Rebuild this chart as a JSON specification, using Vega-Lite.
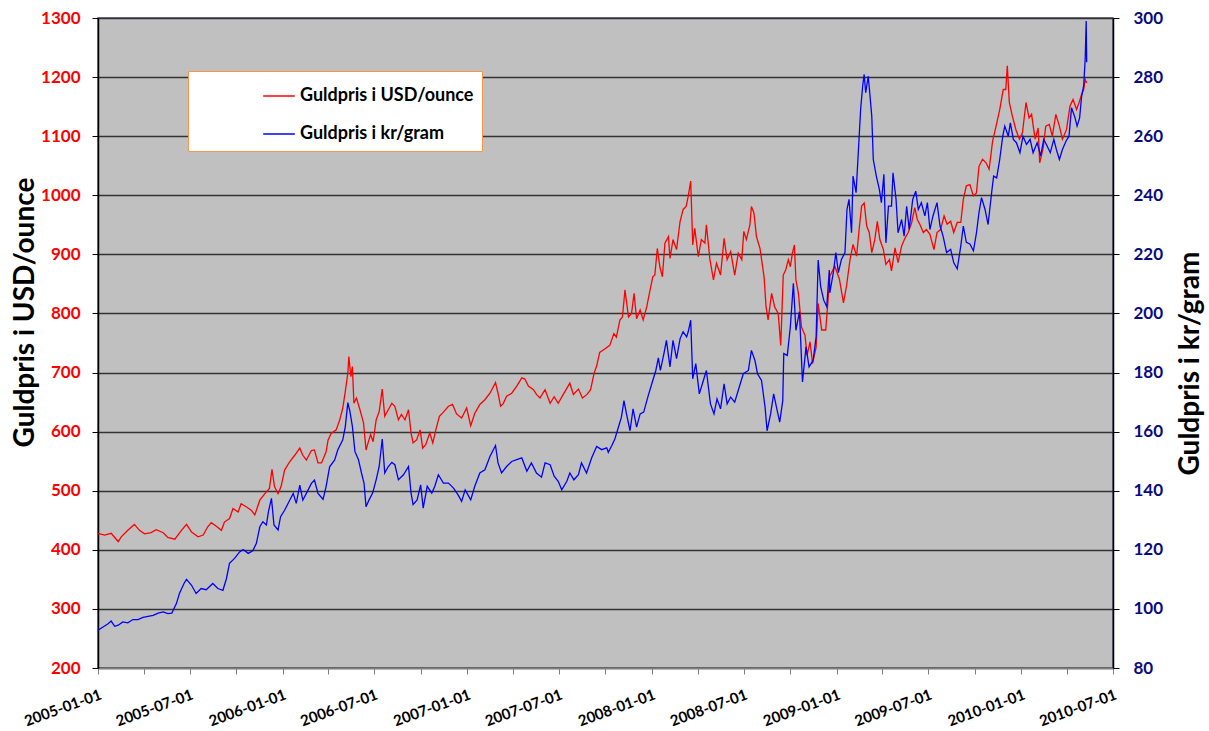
{
"$schema": "https://vega.github.io/schema/vega-lite/v6.json",
"autosize": {"type": "none"},
"width": 1015,
"height": 650,
"padding": {"left": 98, "top": 18, "right": 96, "bottom": 63},
"background": "white",
"config": {
  "font": "Lato",
  "view": {"fill": "#c0c0c0", "stroke": "#4d4d70", "strokeWidth": 1.5}
},
"datasets": {
"usd": [
{"d":"2005-01-01","v":428},{"d":"2005-01-14","v":425},{"d":"2005-01-27","v":428},{"d":"2005-02-10","v":414},{"d":"2005-02-16","v":422},{"d":"2005-03-01","v":433},{"d":"2005-03-14","v":443},{"d":"2005-03-24","v":433},{"d":"2005-04-03","v":427},{"d":"2005-04-16","v":429},{"d":"2005-04-26","v":434},{"d":"2005-05-10","v":429},{"d":"2005-05-19","v":421},{"d":"2005-06-02","v":418},{"d":"2005-06-15","v":433},{"d":"2005-06-25","v":443},{"d":"2005-07-05","v":430},{"d":"2005-07-18","v":422},{"d":"2005-07-28","v":425},{"d":"2005-08-06","v":439},{"d":"2005-08-13","v":446},{"d":"2005-08-23","v":440},{"d":"2005-09-02","v":433},{"d":"2005-09-08","v":447},{"d":"2005-09-18","v":453},{"d":"2005-09-25","v":470},{"d":"2005-10-05","v":464},{"d":"2005-10-11","v":478},{"d":"2005-10-21","v":473},{"d":"2005-10-31","v":467},{"d":"2005-11-07","v":459},{"d":"2005-11-17","v":484},{"d":"2005-11-27","v":495},{"d":"2005-12-06","v":504},{"d":"2005-12-11","v":536},{"d":"2005-12-16","v":507},{"d":"2005-12-23","v":495},{"d":"2005-12-29","v":507},
{"d":"2006-01-05","v":535},{"d":"2006-01-15","v":549},{"d":"2006-01-25","v":560},{"d":"2006-02-04","v":572},{"d":"2006-02-10","v":560},{"d":"2006-02-17","v":552},{"d":"2006-02-27","v":568},{"d":"2006-03-05","v":569},{"d":"2006-03-12","v":547},{"d":"2006-03-19","v":547},{"d":"2006-03-28","v":566},{"d":"2006-04-01","v":586},{"d":"2006-04-07","v":597},{"d":"2006-04-17","v":603},{"d":"2006-04-24","v":620},{"d":"2006-04-30","v":640},{"d":"2006-05-05","v":668},{"d":"2006-05-10","v":699},{"d":"2006-05-12","v":727},{"d":"2006-05-16","v":693},{"d":"2006-05-19","v":710},{"d":"2006-05-22","v":648},{"d":"2006-05-27","v":657},{"d":"2006-06-03","v":637},{"d":"2006-06-10","v":615},{"d":"2006-06-15","v":569},{"d":"2006-06-19","v":581},{"d":"2006-06-24","v":595},{"d":"2006-06-29","v":583},{"d":"2006-07-05","v":620},{"d":"2006-07-11","v":634},{"d":"2006-07-17","v":672},{"d":"2006-07-22","v":626},{"d":"2006-07-29","v":637},{"d":"2006-08-05","v":648},{"d":"2006-08-11","v":643},{"d":"2006-08-18","v":620},{"d":"2006-08-24","v":629},{"d":"2006-08-31","v":620},{"d":"2006-09-07","v":637},{"d":"2006-09-12","v":598},{"d":"2006-09-16","v":581},{"d":"2006-09-23","v":586},{"d":"2006-09-30","v":603},{"d":"2006-10-05","v":572},{"d":"2006-10-11","v":578},{"d":"2006-10-19","v":598},{"d":"2006-10-25","v":581},{"d":"2006-10-31","v":603},{"d":"2006-11-07","v":626},{"d":"2006-11-15","v":633},{"d":"2006-11-25","v":643},{"d":"2006-12-03","v":646},{"d":"2006-12-11","v":630},{"d":"2006-12-21","v":623},{"d":"2006-12-31","v":640},
{"d":"2007-01-08","v":610},{"d":"2007-01-16","v":631},{"d":"2007-01-26","v":646},{"d":"2007-02-05","v":654},{"d":"2007-02-15","v":665},{"d":"2007-02-26","v":683},{"d":"2007-03-03","v":665},{"d":"2007-03-08","v":643},{"d":"2007-03-13","v":647},{"d":"2007-03-20","v":660},{"d":"2007-03-30","v":665},{"d":"2007-04-09","v":677},{"d":"2007-04-19","v":691},{"d":"2007-04-25","v":689},{"d":"2007-05-02","v":677},{"d":"2007-05-12","v":671},{"d":"2007-05-18","v":663},{"d":"2007-05-25","v":657},{"d":"2007-06-04","v":671},{"d":"2007-06-14","v":648},{"d":"2007-06-22","v":659},{"d":"2007-06-30","v":648},{"d":"2007-07-10","v":663},{"d":"2007-07-23","v":682},{"d":"2007-07-30","v":663},{"d":"2007-08-09","v":672},{"d":"2007-08-17","v":657},{"d":"2007-08-26","v":663},{"d":"2007-09-02","v":671},{"d":"2007-09-09","v":699},{"d":"2007-09-14","v":711},{"d":"2007-09-20","v":734},{"d":"2007-09-30","v":740},{"d":"2007-10-10","v":746},{"d":"2007-10-18","v":766},{"d":"2007-10-23","v":760},{"d":"2007-10-30","v":789},{"d":"2007-11-04","v":794},{"d":"2007-11-09","v":840},{"d":"2007-11-16","v":794},{"d":"2007-11-22","v":800},{"d":"2007-11-27","v":834},{"d":"2007-12-02","v":791},{"d":"2007-12-09","v":806},{"d":"2007-12-15","v":789},{"d":"2007-12-22","v":811},{"d":"2007-12-28","v":837},
{"d":"2008-01-03","v":862},{"d":"2008-01-07","v":865},{"d":"2008-01-12","v":910},{"d":"2008-01-17","v":879},{"d":"2008-01-22","v":862},{"d":"2008-01-27","v":919},{"d":"2008-02-03","v":930},{"d":"2008-02-06","v":893},{"d":"2008-02-12","v":925},{"d":"2008-02-19","v":908},{"d":"2008-02-26","v":956},{"d":"2008-03-03","v":976},{"d":"2008-03-09","v":981},{"d":"2008-03-13","v":998},{"d":"2008-03-18","v":1024},{"d":"2008-03-22","v":916},{"d":"2008-03-26","v":944},{"d":"2008-04-02","v":896},{"d":"2008-04-08","v":925},{"d":"2008-04-15","v":919},{"d":"2008-04-18","v":950},{"d":"2008-04-25","v":891},{"d":"2008-05-02","v":857},{"d":"2008-05-08","v":885},{"d":"2008-05-16","v":865},{"d":"2008-05-23","v":927},{"d":"2008-05-29","v":891},{"d":"2008-06-05","v":905},{"d":"2008-06-13","v":865},{"d":"2008-06-20","v":902},{"d":"2008-06-27","v":891},{"d":"2008-07-01","v":939},{"d":"2008-07-06","v":925},{"d":"2008-07-13","v":950},{"d":"2008-07-16","v":981},{"d":"2008-07-21","v":970},{"d":"2008-07-26","v":930},{"d":"2008-08-02","v":910},{"d":"2008-08-10","v":862},{"d":"2008-08-14","v":811},{"d":"2008-08-18","v":789},{"d":"2008-08-25","v":834},{"d":"2008-08-31","v":811},{"d":"2008-09-07","v":800},{"d":"2008-09-12","v":746},{"d":"2008-09-17","v":865},{"d":"2008-09-22","v":874},{"d":"2008-09-27","v":891},{"d":"2008-10-01","v":879},{"d":"2008-10-05","v":902},{"d":"2008-10-09","v":916},{"d":"2008-10-12","v":857},{"d":"2008-10-17","v":834},{"d":"2008-10-23","v":777},{"d":"2008-10-30","v":763},{"d":"2008-11-03","v":729},{"d":"2008-11-09","v":752},{"d":"2008-11-14","v":715},{"d":"2008-11-21","v":743},{"d":"2008-11-25","v":817},{"d":"2008-12-02","v":772},{"d":"2008-12-10","v":772},{"d":"2008-12-15","v":828},{"d":"2008-12-18","v":863},{"d":"2008-12-28","v":880},
{"d":"2009-01-06","v":858},{"d":"2009-01-14","v":818},{"d":"2009-01-20","v":846},{"d":"2009-01-27","v":891},{"d":"2009-02-02","v":917},{"d":"2009-02-09","v":897},{"d":"2009-02-14","v":942},{"d":"2009-02-19","v":982},{"d":"2009-02-24","v":987},{"d":"2009-03-01","v":948},{"d":"2009-03-06","v":937},{"d":"2009-03-11","v":903},{"d":"2009-03-17","v":925},{"d":"2009-03-22","v":956},{"d":"2009-03-27","v":925},{"d":"2009-04-03","v":908},{"d":"2009-04-08","v":883},{"d":"2009-04-15","v":891},{"d":"2009-04-19","v":872},{"d":"2009-04-26","v":911},{"d":"2009-05-02","v":886},{"d":"2009-05-09","v":914},{"d":"2009-05-16","v":928},{"d":"2009-05-22","v":937},{"d":"2009-05-29","v":954},{"d":"2009-06-04","v":979},{"d":"2009-06-09","v":959},{"d":"2009-06-14","v":951},{"d":"2009-06-21","v":937},{"d":"2009-06-27","v":942},{"d":"2009-07-04","v":934},{"d":"2009-07-12","v":908},{"d":"2009-07-18","v":937},{"d":"2009-07-25","v":942},{"d":"2009-08-01","v":965},{"d":"2009-08-07","v":951},{"d":"2009-08-14","v":956},{"d":"2009-08-20","v":937},{"d":"2009-08-27","v":954},{"d":"2009-09-03","v":954},{"d":"2009-09-08","v":993},{"d":"2009-09-14","v":1016},{"d":"2009-09-21","v":1018},{"d":"2009-09-28","v":999},{"d":"2009-10-04","v":1004},{"d":"2009-10-09","v":1049},{"d":"2009-10-16","v":1061},{"d":"2009-10-23","v":1055},{"d":"2009-10-29","v":1044},{"d":"2009-11-05","v":1092},{"d":"2009-11-11","v":1114},{"d":"2009-11-19","v":1145},{"d":"2009-11-26","v":1179},{"d":"2009-12-01","v":1179},{"d":"2009-12-04","v":1219},{"d":"2009-12-08","v":1157},{"d":"2009-12-14","v":1134},{"d":"2009-12-21","v":1111},{"d":"2009-12-28","v":1095},
{"d":"2010-01-03","v":1106},{"d":"2010-01-10","v":1157},{"d":"2010-01-16","v":1131},{"d":"2010-01-21","v":1137},{"d":"2010-01-28","v":1095},{"d":"2010-02-03","v":1114},{"d":"2010-02-06","v":1055},{"d":"2010-02-13","v":1080},{"d":"2010-02-18","v":1117},{"d":"2010-02-25","v":1120},{"d":"2010-03-03","v":1100},{"d":"2010-03-10","v":1137},{"d":"2010-03-17","v":1117},{"d":"2010-03-23","v":1095},{"d":"2010-03-31","v":1111},{"d":"2010-04-07","v":1151},{"d":"2010-04-13","v":1162},{"d":"2010-04-20","v":1145},{"d":"2010-04-25","v":1157},{"d":"2010-04-30","v":1171},{"d":"2010-05-04","v":1179},{"d":"2010-05-07","v":1196},{"d":"2010-05-10","v":1190}
],
"sek": [
{"d":"2005-01-01","v":92.8},{"d":"2005-01-11","v":93.9},{"d":"2005-01-21","v":95},{"d":"2005-01-27","v":95.9},{"d":"2005-02-03","v":94.1},{"d":"2005-02-10","v":94.5},{"d":"2005-02-19","v":95.6},{"d":"2005-03-01","v":95.3},{"d":"2005-03-11","v":96.4},{"d":"2005-03-21","v":96.4},{"d":"2005-03-31","v":97.1},{"d":"2005-04-10","v":97.5},{"d":"2005-04-20","v":97.8},{"d":"2005-04-30","v":98.6},{"d":"2005-05-10","v":99},{"d":"2005-05-19","v":98.4},{"d":"2005-05-27","v":98.6},{"d":"2005-06-05","v":101.8},{"d":"2005-06-11","v":105.2},{"d":"2005-06-20","v":108.6},{"d":"2005-06-25","v":110},{"d":"2005-07-05","v":108},{"d":"2005-07-14","v":105.2},{"d":"2005-07-24","v":106.9},{"d":"2005-08-03","v":106.5},{"d":"2005-08-16","v":108.6},{"d":"2005-08-26","v":106.9},{"d":"2005-09-05","v":106.3},{"d":"2005-09-12","v":110.3},{"d":"2005-09-18","v":115.4},{"d":"2005-09-28","v":117.1},{"d":"2005-10-08","v":119.3},{"d":"2005-10-15","v":120.1},{"d":"2005-10-25","v":118.8},{"d":"2005-11-03","v":119.7},{"d":"2005-11-10","v":122.1},{"d":"2005-11-17","v":127.8},{"d":"2005-11-23","v":129.5},{"d":"2005-11-30","v":128.4},{"d":"2005-12-04","v":132.9},{"d":"2005-12-10","v":137.4},{"d":"2005-12-15","v":128.4},{"d":"2005-12-23","v":126.7},{"d":"2005-12-28","v":131.2},
{"d":"2006-01-05","v":133.4},{"d":"2006-01-15","v":136.8},{"d":"2006-01-22","v":139.1},{"d":"2006-01-28","v":135.7},{"d":"2006-02-04","v":141.9},{"d":"2006-02-10","v":136.8},{"d":"2006-02-17","v":139.1},{"d":"2006-02-27","v":142.5},{"d":"2006-03-05","v":143.6},{"d":"2006-03-12","v":139.1},{"d":"2006-03-22","v":137.1},{"d":"2006-03-28","v":141.4},{"d":"2006-04-04","v":148.1},{"d":"2006-04-14","v":150.4},{"d":"2006-04-20","v":153.8},{"d":"2006-04-30","v":157.2},{"d":"2006-05-05","v":161.7},{"d":"2006-05-10","v":169.8},{"d":"2006-05-14","v":166.9},{"d":"2006-05-19","v":161.8},{"d":"2006-05-24","v":153.3},{"d":"2006-05-31","v":150.5},{"d":"2006-06-06","v":146},{"d":"2006-06-11","v":142.6},{"d":"2006-06-15","v":134.6},{"d":"2006-06-21","v":136.9},{"d":"2006-06-28","v":139.2},{"d":"2006-07-05","v":143.7},{"d":"2006-07-11","v":148.2},{"d":"2006-07-17","v":157.5},{"d":"2006-07-22","v":146},{"d":"2006-07-29","v":148.2},{"d":"2006-08-05","v":149.6},{"d":"2006-08-11","v":148.8},{"d":"2006-08-18","v":143.7},{"d":"2006-08-28","v":145.4},{"d":"2006-09-07","v":148.2},{"d":"2006-09-12","v":139.2},{"d":"2006-09-16","v":135.3},{"d":"2006-09-24","v":136.9},{"d":"2006-10-01","v":142},{"d":"2006-10-06","v":134.1},{"d":"2006-10-14","v":141.5},{"d":"2006-10-23","v":139.2},{"d":"2006-10-29","v":141.5},{"d":"2006-11-05","v":145.4},{"d":"2006-11-15","v":142.6},{"d":"2006-11-25","v":142.6},{"d":"2006-12-05","v":140.9},{"d":"2006-12-14","v":138.6},{"d":"2006-12-21","v":136.4},{"d":"2006-12-28","v":140.3},
{"d":"2007-01-08","v":136.9},{"d":"2007-01-16","v":141.5},{"d":"2007-01-26","v":146},{"d":"2007-02-05","v":147.1},{"d":"2007-02-15","v":151.6},{"d":"2007-02-26","v":155.3},{"d":"2007-03-03","v":149.4},{"d":"2007-03-10","v":146},{"d":"2007-03-20","v":148.2},{"d":"2007-03-30","v":149.9},{"d":"2007-04-09","v":150.5},{"d":"2007-04-19","v":151.1},{"d":"2007-04-29","v":146.6},{"d":"2007-05-08","v":149.4},{"d":"2007-05-18","v":146},{"d":"2007-05-28","v":144.6},{"d":"2007-06-04","v":149.4},{"d":"2007-06-14","v":148.8},{"d":"2007-06-22","v":144.9},{"d":"2007-06-30","v":143.2},{"d":"2007-07-07","v":140.3},{"d":"2007-07-17","v":143.2},{"d":"2007-07-23","v":146},{"d":"2007-07-31","v":143.7},{"d":"2007-08-09","v":145.4},{"d":"2007-08-15","v":149.4},{"d":"2007-08-25","v":146},{"d":"2007-09-04","v":151.1},{"d":"2007-09-14","v":155},{"d":"2007-09-24","v":153.9},{"d":"2007-10-04","v":154.5},{"d":"2007-10-07","v":153},{"d":"2007-10-14","v":155.3},{"d":"2007-10-20","v":157.5},{"d":"2007-10-27","v":161.5},{"d":"2007-11-02","v":164.9},{"d":"2007-11-07","v":170.5},{"d":"2007-11-12","v":166},{"d":"2007-11-19","v":160.3},{"d":"2007-11-25","v":167.7},{"d":"2007-12-02","v":161.5},{"d":"2007-12-09","v":166},{"d":"2007-12-16","v":166.6},{"d":"2007-12-25","v":172.2},
{"d":"2008-01-03","v":177.3},{"d":"2008-01-09","v":180.7},{"d":"2008-01-14","v":185},{"d":"2008-01-18","v":180.7},{"d":"2008-01-25","v":186.4},{"d":"2008-01-30","v":190.9},{"d":"2008-02-06","v":181.9},{"d":"2008-02-12","v":190.9},{"d":"2008-02-19","v":184.7},{"d":"2008-02-26","v":191.5},{"d":"2008-03-03","v":193.8},{"d":"2008-03-10","v":192.1},{"d":"2008-03-13","v":193.8},{"d":"2008-03-18","v":197.7},{"d":"2008-03-22","v":177.9},{"d":"2008-03-28","v":183},{"d":"2008-04-04","v":172.8},{"d":"2008-04-12","v":177.3},{"d":"2008-04-18","v":180.7},{"d":"2008-04-26","v":169.4},{"d":"2008-05-03","v":166},{"d":"2008-05-09","v":171.1},{"d":"2008-05-16","v":167.7},{"d":"2008-05-23","v":176.2},{"d":"2008-05-29","v":169.4},{"d":"2008-06-05","v":171.7},{"d":"2008-06-13","v":170},{"d":"2008-06-22","v":175.1},{"d":"2008-06-30","v":179.6},{"d":"2008-07-10","v":180.7},{"d":"2008-07-16","v":187.5},{"d":"2008-07-23","v":184.1},{"d":"2008-07-28","v":179.6},{"d":"2008-08-05","v":177.3},{"d":"2008-08-12","v":168.3},{"d":"2008-08-16","v":160.3},{"d":"2008-08-23","v":166},{"d":"2008-08-29","v":172.8},{"d":"2008-09-05","v":167.1},{"d":"2008-09-10","v":163.2},{"d":"2008-09-16","v":170.5},{"d":"2008-09-18","v":186.4},{"d":"2008-09-25","v":185.8},{"d":"2008-10-01","v":195.5},{"d":"2008-10-07","v":210.2},{"d":"2008-10-12","v":194.3},{"d":"2008-10-19","v":200.6},{"d":"2008-10-25","v":176.8},{"d":"2008-11-01","v":188.7},{"d":"2008-11-07","v":181.9},{"d":"2008-11-15","v":184.1},{"d":"2008-11-21","v":192.1},{"d":"2008-11-25","v":218.1},{"d":"2008-11-30","v":209.1},{"d":"2008-12-06","v":204.5},{"d":"2008-12-12","v":202.3},{"d":"2008-12-17","v":214.7},{"d":"2008-12-18","v":207},{"d":"2008-12-25","v":213.8},{"d":"2008-12-30","v":220.6},
{"d":"2009-01-04","v":213.8},{"d":"2009-01-10","v":218.3},{"d":"2009-01-17","v":220.6},{"d":"2009-01-21","v":235.2},{"d":"2009-01-25","v":238.6},{"d":"2009-01-30","v":227.3},{"d":"2009-02-02","v":246.5},{"d":"2009-02-08","v":240.9},{"d":"2009-02-12","v":253.3},{"d":"2009-02-17","v":269.1},{"d":"2009-02-21","v":277},{"d":"2009-02-24","v":280.9},{"d":"2009-02-27","v":274.7},{"d":"2009-03-04","v":280.3},{"d":"2009-03-07","v":274.7},{"d":"2009-03-11","v":266.8},{"d":"2009-03-14","v":252.1},{"d":"2009-03-20","v":246.5},{"d":"2009-03-26","v":242},{"d":"2009-03-30","v":237.5},{"d":"2009-04-04","v":247.1},{"d":"2009-04-08","v":223.9},{"d":"2009-04-13","v":236.3},{"d":"2009-04-19","v":236.3},{"d":"2009-04-22","v":247.6},{"d":"2009-04-28","v":238.6},{"d":"2009-05-02","v":227.3},{"d":"2009-05-09","v":231.8},{"d":"2009-05-14","v":226.2},{"d":"2009-05-19","v":236.3},{"d":"2009-05-24","v":228.4},{"d":"2009-05-31","v":238.6},{"d":"2009-06-06","v":241.4},{"d":"2009-06-11","v":235.2},{"d":"2009-06-17","v":237.5},{"d":"2009-06-24","v":233},{"d":"2009-06-29","v":237.5},{"d":"2009-07-04","v":228.4},{"d":"2009-07-10","v":233},{"d":"2009-07-18","v":237.5},{"d":"2009-07-24","v":229.6},{"d":"2009-07-30","v":226.2},{"d":"2009-08-06","v":220.6},{"d":"2009-08-14","v":221.7},{"d":"2009-08-20","v":217.2},{"d":"2009-08-27","v":215.1},{"d":"2009-09-03","v":222.8},{"d":"2009-09-08","v":229.6},{"d":"2009-09-14","v":224.1},{"d":"2009-09-21","v":223.5},{"d":"2009-09-28","v":221.2},{"d":"2009-10-04","v":227.3},{"d":"2009-10-09","v":234.1},{"d":"2009-10-14","v":239.2},{"d":"2009-10-21","v":235.2},{"d":"2009-10-27","v":230.1},{"d":"2009-11-03","v":240.9},{"d":"2009-11-07","v":246.5},{"d":"2009-11-13","v":245.9},{"d":"2009-11-19","v":252.1},{"d":"2009-11-25","v":260},{"d":"2009-11-29","v":263.4},{"d":"2009-12-06","v":260},{"d":"2009-12-10","v":264.5},{"d":"2009-12-16","v":258.9},{"d":"2009-12-22","v":257.8},{"d":"2009-12-29","v":254.4},
{"d":"2010-01-04","v":260},{"d":"2010-01-11","v":257.2},{"d":"2010-01-18","v":258.9},{"d":"2010-01-24","v":254.4},{"d":"2010-02-01","v":257.8},{"d":"2010-02-08","v":253.3},{"d":"2010-02-14","v":258.9},{"d":"2010-02-21","v":256.6},{"d":"2010-02-27","v":254.4},{"d":"2010-03-06","v":258.9},{"d":"2010-03-11","v":255.5},{"d":"2010-03-17","v":252.1},{"d":"2010-03-23","v":255.5},{"d":"2010-03-30","v":258.3},{"d":"2010-04-05","v":260},{"d":"2010-04-10","v":269.6},{"d":"2010-04-17","v":266.2},{"d":"2010-04-21","v":263.4},{"d":"2010-04-26","v":266.2},{"d":"2010-04-30","v":273.6},{"d":"2010-05-04","v":277},{"d":"2010-05-07","v":286},{"d":"2010-05-09","v":299},{"d":"2010-05-10","v":285}
]
},
"encoding": {
  "x": {
    "field": "d", "type": "temporal",
    "scale": {"type": "utc", "domain": [{"year": 2005, "month": 1, "date": 1, "utc": true}, {"year": 2010, "month": 7, "date": 1, "utc": true}]},
    "axis": {
      "title": null, "grid": false,
      "tickCount": {"interval": "month", "step": 3},
      "labelExpr": "utcmonth(datum.value) % 6 == 0 ? utcFormat(datum.value, '%Y-%m-%d') : ''",
      "labelAngle": -20, "labelAlign": "right", "labelBaseline": "top",
      "labelFont": "Lato", "labelFontSize": 15, "labelFontWeight": "bold", "labelColor": "black",
      "labelPadding": 13, "labelOverlap": false, "labelFlush": false, "labelBound": false,
      "tickSize": 6, "tickColor": "#808080", "domainColor": "#808080", "domainWidth": 1.5
    }
  }
},
"layer": [
  {
    "data": {"name": "usd"},
    "mark": {"type": "line", "strokeWidth": 1.3, "clip": true},
    "encoding": {
      "y": {
        "field": "v", "type": "quantitative",
        "scale": {"domain": [200, 1300], "nice": false, "zero": false},
        "axis": {
          "orient": "left", "title": "Guldpris i USD/ounce", "format": "d",
          "values": [200, 300, 400, 500, 600, 700, 800, 900, 1000, 1100, 1200, 1300],
          "grid": true, "gridColor": "#333333", "gridWidth": 1.6, "gridOpacity": 1,
          "labelFont": "Lato", "labelFontSize": 17, "labelFontWeight": "bold", "labelColor": "#ff0000",
          "labelPadding": 12, "tickSize": 6, "tickColor": "black", "domainColor": "black", "domainWidth": 1.5,
          "titleFont": "Lato", "titleFontSize": 28, "titleFontWeight": "bold", "titleColor": "black",
          "titleAngle": 270, "titleAlign": "center", "titleBaseline": "alphabetic", "titleX": -65, "titleY": 294
        }
      },
      "color": {
        "datum": "Guldpris i USD/ounce", "type": "nominal",
        "scale": {"domain": ["Guldpris i USD/ounce", "Guldpris i kr/gram"], "range": ["#ff0000", "#0000ff"]},
        "legend": {
          "orient": "none", "legendX": 90, "legendY": 53, "title": null,
          "fillColor": "white", "strokeColor": "#f79646", "padding": 8,
          "symbolType": "stroke", "symbolStrokeWidth": 1.5, "symbolSize": 1000, "symbolOffset": 66,
          "labelFont": "Lato", "labelFontSize": 18, "labelFontWeight": "bold", "labelColor": "black",
          "labelOffset": 4, "rowPadding": 12, "labelLimit": 0,
          "labelExpr": "datum.label + '\u00a0\u00a0\u00a0\u00a0\u00a0\u00a0\u00a0\u00a0\u00a0\u00a0\u00a0\u00a0\u00a0\u00a0\u00a0'"
        }
      }
    }
  },
  {
    "data": {"name": "sek"},
    "mark": {"type": "line", "strokeWidth": 1.3, "clip": true},
    "encoding": {
      "y": {
        "field": "v", "type": "quantitative",
        "scale": {"domain": [80, 300], "nice": false, "zero": false},
        "axis": {
          "orient": "right", "title": "Guldpris i kr/gram",
          "values": [80, 100, 120, 140, 160, 180, 200, 220, 240, 260, 280, 300],
          "grid": false,
          "labelFont": "Lato", "labelFontSize": 17, "labelFontWeight": "bold", "labelColor": "#0a0a80",
          "labelPadding": 14, "tickSize": 6, "tickColor": "black", "domainColor": "black", "domainWidth": 1.5,
          "titleFont": "Lato", "titleFontSize": 28, "titleFontWeight": "bold", "titleColor": "black",
          "titleAngle": 270, "titleAlign": "center", "titleBaseline": "alphabetic", "titleX": 85, "titleY": 345
        }
      },
      "color": {"datum": "Guldpris i kr/gram", "type": "nominal"}
    }
  }
],
"resolve": {"scale": {"y": "independent"}}
}
